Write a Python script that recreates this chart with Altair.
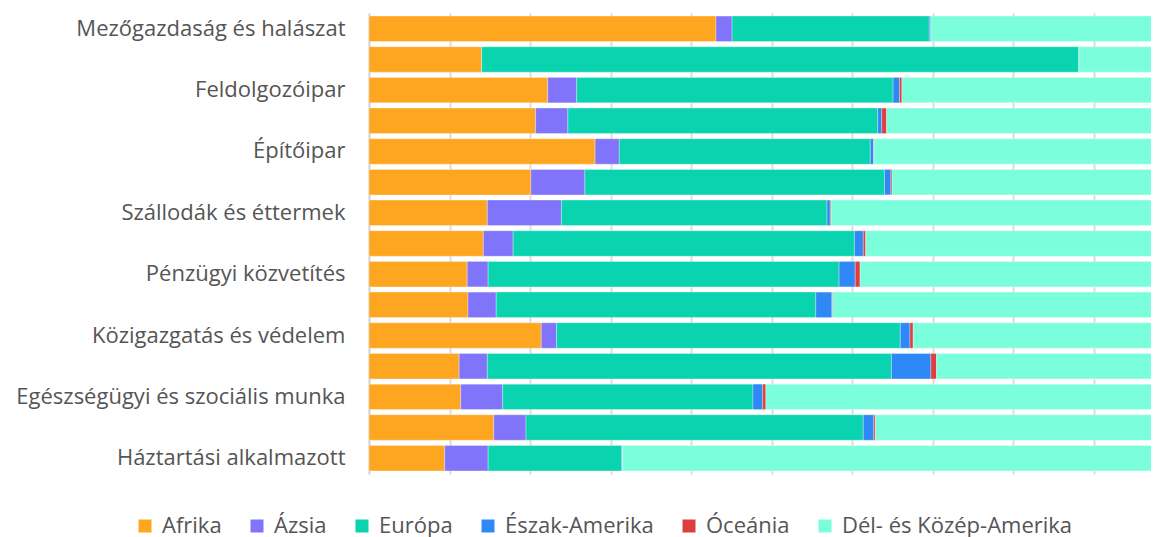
import altair as alt
import pandas as pd

categories = [
    "Mezőgazdaság és halászat",
    "Bányászat",
    "Feldolgozóipar",
    "Villamosenergia-, gáz-, gőz-, vízellátás",
    "Építőipar",
    "Kereskedelem, javítás",
    "Szállodák és éttermek ",
    "Szállítás, raktározás, posta, távközlés",
    "Pénzügyi közvetítés",
    "Ingatlanügyletek, gazdasági szolgáltatás",
    "Közigazgatás és védelem",
    "Oktatás",
    "Egészségügyi és szociális munka",
    "Egyéb közösségi, személyi szolgáltatás",
    "Háztartási alkalmazott",
]
labelled = categories[0::2]

regions = ["Afrika", "Ázsia", "Európa", "Észak-Amerika", "Óceánia", "Dél- és Közép-Amerika"]
colors = ["#FFA620", "#8074FB", "#0AD4B0", "#2E88F5", "#DD3F3F", "#7BFEDC"]

afrika = [43.1, 14.0, 22.2, 20.7, 28.1, 20.1, 14.7, 14.2, 12.2, 12.3, 21.4, 11.2, 11.4, 15.5, 9.4]
azsia = [2.0, 0.0, 3.6, 4.0, 3.0, 6.7, 9.2, 3.7, 2.6, 3.5, 1.9, 3.5, 5.2, 4.0, 5.4]
europa = [24.5, 74.2, 39.3, 38.5, 31.2, 37.2, 33.0, 42.4, 43.6, 39.7, 42.7, 50.2, 31.1, 41.9, 16.6]
eszak_amerika = [0.2, 0.0, 0.8, 0.5, 0.4, 0.8, 0.4, 1.1, 2.0, 2.0, 1.2, 4.9, 1.2, 1.3, 0.1]
oceania = [0.0, 0.0, 0.3, 0.6, 0.05, 0.15, 0.1, 0.3, 0.6, 0.1, 0.4, 0.7, 0.4, 0.2, 0.0]
del_kozep_amerika = [30.2, 11.8, 33.8, 35.7, 37.3, 35.0, 42.6, 38.3, 39.0, 42.4, 32.4, 29.5, 50.7, 37.1, 68.5]

series = [afrika, azsia, europa, eszak_amerika, oceania, del_kozep_amerika]

rows = []
for ci, cat in enumerate(categories):
    for ri, reg in enumerate(regions):
        rows.append({"ag": cat, "regio": reg, "ertek": series[ri][ci], "rend": ri})
df = pd.DataFrame(rows)

FONT = "Open Sans"

chart = (
    alt.Chart(df)
    .mark_bar(clip=True, stroke="white", strokeWidth=0.5, strokeOpacity=0.6)
    .encode(
        y=alt.Y(
            "ag:N",
            sort=categories,
            title=None,
            scale=alt.Scale(paddingInner=0.17, paddingOuter=0.1),
            axis=alt.Axis(
                values=labelled,
                ticks=False,
                grid=False,
                domain=True,
                domainColor="#d0d0d0",
                domainWidth=2,
                labelFont=FONT,
                labelFontSize=22,
                labelColor="#555555",
                labelPadding=24,
                labelLimit=400,
            ),
        ),
        x=alt.X(
            "ertek:Q",
            stack="normalize",
            title=None,
            scale=alt.Scale(domain=[0, 782 / 805], nice=False, zero=True),
            axis=alt.Axis(
                values=[0.1, 0.2, 0.3, 0.4, 0.5, 0.6, 0.7, 0.8, 0.9],
                labels=False,
                ticks=False,
                domain=False,
                grid=True,
                gridColor="#dcdcdc",
                gridWidth=2,
            ),
        ),
        color=alt.Color(
            "regio:N",
            scale=alt.Scale(domain=regions, range=colors),
            legend=alt.Legend(
                title=None,
                orient="none",
                direction="horizontal",
                columns=6,
                legendX=-235,
                legendY=502,
                symbolType="square",
                symbolSize=169,
                symbolStrokeWidth=0,
                labelFont=FONT,
                labelFontSize=22,
                labelColor="#555555",
                labelOffset=6,
                labelLimit=400,
                columnPadding=24,
                padding=0,
            ),
        ),
        order=alt.Order("rend:Q"),
    )
    .properties(
        width=782,
        height=461,
        padding={"left": 361, "top": 5, "right": 0, "bottom": 70},
        autosize=alt.AutoSizeParams(type="none"),
    )
    .configure_view(stroke=None)
)

chart.save("out.html", embed_options={"renderer": "svg", "actions": False})
